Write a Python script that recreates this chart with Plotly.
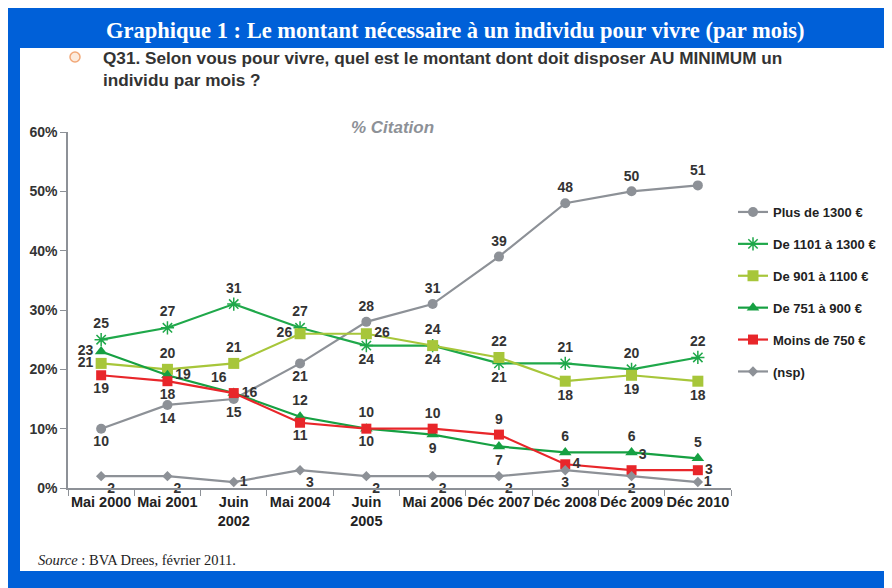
import plotly.graph_objects as go

categories = ["Mai 2000", "Mai 2001", "Juin<br>2002", "Mai 2004", "Juin<br>2005",
              "Mai 2006", "Déc 2007", "Déc 2008", "Déc 2009", "Déc 2010"]

plus_1300 = [10, 14, 15, 21, 28, 31, 39, 48, 50, 51]
de_1101_1300 = [25, 27, 31, 27, 24, 24, 21, 21, 20, 22]
de_901_1100 = [21, 20, 21, 26, 26, 24, 22, 18, 19, 18]
de_751_900 = [23, 19, 16, 12, 10, 9, 7, 6, 6, 5]
moins_750 = [19, 18, 16, 11, 10, 10, 9, 4, 3, 3]
nsp = [2, 2, 1, 3, 2, 2, 2, 3, 2, 1]

y_ticks = [0, 10, 20, 30, 40, 50, 60]

W, H = 892, 588
OFF = 8  # page body margin: screen coords -> figure coords
L, R, T, B = 68 - OFF, 731 - OFF, 132 - OFF, 488 - OFF


def px(x):
    return (x - OFF - L) / (R - L)


def py(y):
    return (B - (y - OFF)) / (B - T)


TC, BC, ML, MR, TL, TR, BR = ("top center", "bottom center", "middle left", "middle right",
                              "top left", "top right", "bottom right")
FONT = "Liberation Sans, Arial, sans-serif"

series = [
    dict(name="Plus de 1300 €", y=plus_1300, color="#8D9197", symbol="circle", size=10, lw=0,
         pos=[BC, BC, BC, BC, TC, TC, TC, TC, TC, TC]),
    dict(name="De 1101 à 1300 €", y=de_1101_1300, color="#1FA84A", symbol="asterisk-open", size=11, lw=1.5,
         pos=[TC, TC, TC, TC, BC, BC, BC, TC, TC, TC]),
    dict(name="De 901 à 1100 €", y=de_901_1100, color="#A7C63A", symbol="square", size=11, lw=0,
         pos=[ML, TC, TC, ML, MR, TC, TC, BC, BC, BC]),
    dict(name="De 751 à 900 €", y=de_751_900, color="#16A042", symbol="triangle-up", size=11, lw=0,
         pos=[ML, MR, MR, TC, TC, BC, BC, TC, TC, TC]),
    dict(name="Moins de 750 €", y=moins_750, color="#E8262A", symbol="square", size=10, lw=0,
         pos=[BC, BC, TL, BC, BC, TC, TC, MR, TR, MR]),
    dict(name="(nsp)", y=nsp, color="#8D9197", symbol="diamond", size=8, lw=0,
         pos=[BR, BR, MR, BR, BR, BR, BR, BC, BC, MR]),
]

fig = go.Figure()
for i, s in enumerate(series):
    fig.add_trace(go.Scatter(
        x=categories, y=s["y"], name="<b>%s</b>" % s["name"], mode="lines+markers+text",
        line=dict(color=s["color"], width=2.2),
        marker=dict(symbol=s["symbol"], size=s["size"], color=s["color"],
                    line=dict(color=s["color"], width=s["lw"])),
        text=["<b>%d</b>" % v for v in s["y"]], textposition=s["pos"],
        textfont=dict(family=FONT, size=14, color="#333333"),
        legendgroup="g%d" % i, cliponaxis=False,
    ))

shapes = [
    dict(type="rect", xref="paper", yref="paper", x0=px(8), x1=px(900), y0=py(600), y1=py(8),
         fillcolor="#0060D8", line=dict(width=0), layer="below"),
    dict(type="rect", xref="paper", yref="paper", x0=px(20), x1=px(887), y0=py(571), y1=py(48),
         fillcolor="white", line=dict(width=0), layer="below"),
    dict(type="circle", xref="paper", yref="paper", x0=px(70), x1=px(80), y0=py(62), y1=py(52),
         fillcolor="#FCEBDD", line=dict(color="#F2A878", width=1.5), layer="above"),
]

annotations = [
    dict(text="<b>Graphique 1 : Le montant nécessaire à un individu pour vivre (par mois)</b>",
         xref="paper", yref="paper", x=px(455), y=py(31), xanchor="center", yanchor="middle",
         showarrow=False, font=dict(family="Liberation Serif, serif", size=22.5, color="white")),
    dict(text="<b>Q31. Selon vous pour vivre, quel est le montant dont doit disposer AU MINIMUM un<br>individu par mois ?</b>",
         xref="paper", yref="paper", x=px(101), y=py(46), xanchor="left", yanchor="top", align="left",
         showarrow=False, font=dict(family=FONT, size=17.2, color="#333333")),
    dict(text="<b><i>% Citation</i></b>",
         xref="paper", yref="paper", x=px(392), y=py(128), xanchor="center", yanchor="middle",
         showarrow=False, font=dict(family=FONT, size=17, color="#8D9197")),
    dict(text="<i>Source</i> : BVA Drees, février 2011.",
         xref="paper", yref="paper", x=px(36), y=py(560), xanchor="left", yanchor="middle",
         showarrow=False, font=dict(family="Liberation Serif, serif", size=14.5, color="#222222")),
]

fig.update_layout(
    width=W, height=H,
    margin=dict(l=L, r=W - R, t=T, b=H - B, pad=0),
    paper_bgcolor="white", plot_bgcolor="rgba(0,0,0,0)",
    shapes=shapes, annotations=annotations,
    showlegend=True,
    legend=dict(x=px(733), y=py(197), xanchor="left", yanchor="top",
                font=dict(family=FONT, size=13, color="#222222"),
                tracegroupgap=12, bgcolor="rgba(0,0,0,0)", itemwidth=30),
    xaxis=dict(type="category", range=[-0.5, 9.5], showgrid=False, showline=True,
               linecolor="#8D9197", linewidth=1.5, ticks="outside", tickson="boundaries",
               ticklen=6, tickcolor="#8D9197", tickangle=0,
               tickfont=dict(family=FONT, size=14.5, color="#222222"),
               tickprefix="<b>", ticksuffix="</b>"),
    yaxis=dict(range=[0, 60], tickvals=y_ticks, ticktext=["<b>%d%%</b>" % v for v in y_ticks],
               showgrid=False, showline=True, zeroline=False, linecolor="#8D9197", linewidth=1.5,
               ticks="outside", ticklen=6, tickcolor="#8D9197",
               tickfont=dict(family=FONT, size=14, color="#333333")),
)

fig.write_html("out.html")
